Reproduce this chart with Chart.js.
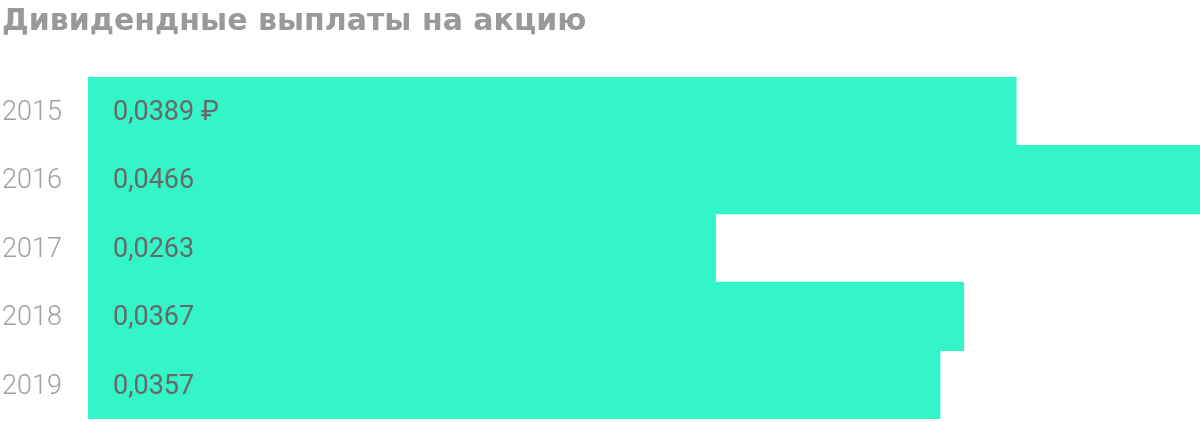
<!DOCTYPE html>
<html>
<head>
<meta charset="utf-8">
<script src="https://cdn.jsdelivr.net/npm/chart.js@4"></script>
<style>
  body { margin: 0; background: #fff; }
  #wrap { width: 1200px; height: 422px; position: relative; }
</style>
</head>
<body>
<div id="wrap"><canvas id="grafico"></canvas></div>
<script>
const titulo = "Дивидендные выплаты на акцию";
const anios = ["2015", "2016", "2017", "2018", "2019"];
const dividendos = [0.0389, 0.0466, 0.0263, 0.0367, 0.0357];
const etiquetas = ["0,0389 ₽", "0,0466", "0,0263", "0,0367", "0,0357"];

// etiquetas dentro de cada barra
const pluginEtiquetas = {
    id: "etiquetas",
    afterDatasetsDraw(chart) {
        const ctx = chart.ctx;
        const meta = chart.getDatasetMeta(0);
        const x0 = chart.scales.x.getPixelForValue(0);
        ctx.save();
        ctx.font = "27px Roboto";
        ctx.fillStyle = "#686868";
        ctx.textBaseline = "middle";
        ctx.textAlign = "left";
        meta.data.forEach((barra, i) => {
            ctx.fillText(etiquetas[i], x0 + 25, barra.y + 2);
        });
        ctx.restore();
    }
};

new Chart(document.getElementById("grafico"), {
    type: "bar",
    data: {
        labels: anios,
        datasets: [{
            data: dividendos,
            backgroundColor: "#33f5c8",
            borderWidth: 0,
            categoryPercentage: 1,
            barPercentage: 1
        }]
    },
    options: {
        indexAxis: "y",
        responsive: true,
        maintainAspectRatio: false,
        animation: false,
        layout: { padding: { top: 0, bottom: 3, left: 2, right: 0 } },
        plugins: {
            legend: { display: false },
            tooltip: { enabled: false },
            title: {
                display: true,
                text: titulo,
                align: "start",
                color: "#999999",
                font: { family: "DejaVu Sans", size: 30, weight: "bold", lineHeight: 1.2 },
                padding: { top: 4, bottom: 37 }
            }
        },
        scales: {
            x: {
                display: false,
                min: 0,
                max: 0.0466
            },
            y: {
                grid: { display: false, drawTicks: false },
                border: { display: false },
                afterFit(escala) {
                    escala.width = 86;
                    escala.paddingTop = 0;
                    escala.paddingBottom = 0;
                },
                ticks: {
                    crossAlign: "far",
                    padding: 0,
                    labelOffset: 2,
                    color: "#a0a0a0",
                    font: { family: "Roboto", size: 27, weight: 300 }
                }
            }
        }
    },
    plugins: [pluginEtiquetas]
});
</script>
</body>
</html>
